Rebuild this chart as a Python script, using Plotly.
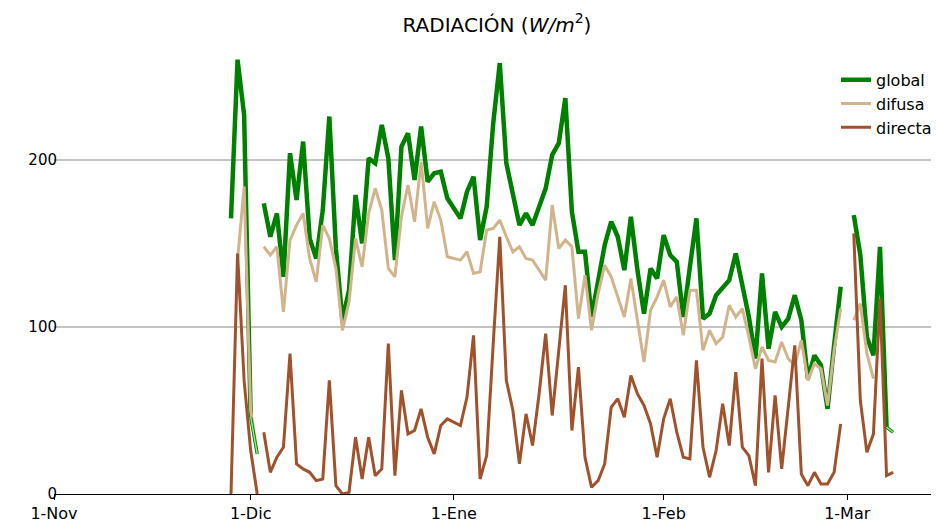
import pandas as pd
import plotly.graph_objects as go

# ---------------- data (daily values, first value = day 27 after 1-Nov) ----------------
start_date = "2015-11-01"
first_day = 27

global_ = [165, 260, 227, 46, 24,
           174, 154, 168, 130, 204, 176, 211, 153, 141, 170, 226, 147, 104, 122, 179,
           150, 201, 198, 221, 201, 140, 208, 216, 188, 220, 187, 192, 193, 177, 171,
           165, 181, 190, 152, 172, 222, 258, 198, 180, 161, 168, 161, 172, 183, 203,
           210, 237, 169, 145, 145, 106, 128, 149, 163, 154, 134, 166, 134, 108, 135,
           129, 155, 143, 139, 106, 136, 165, 105, 108, 119, 124, 128, 144, 126, 106,
           81, 132, 87, 109, 100, 105, 119, 104, 69, 83, 77, 51, 89, 124,
           None, 167, 143, 94, 83, 148, 40, 37]

difusa = [None, 140, 184, 50, 24,
          148, 143, 148, 109, 152, 161, 168, 141, 127, 161, 153, 135, 98, 115, 153,
          136, 168, 183, 170, 135, 130, 166, 185, 163, 199, 159, 175, 164, 142, 141,
          140, 145, 132, 133, 158, 159, 164, 154, 145, 148, 141, 140, 134, 128, 173,
          147, 152, 148, 105, 131, 98, 120, 137, 130, 118, 106, 129, 104, 79, 110,
          118, 128, 112, 118, 95, 122, 122, 86, 98, 90, 94, 113, 106, 111, 94,
          75, 88, 80, 79, 91, 81, 77, 92, 68, 78, 75, 53, 86, 111,
          None, 104, 114, 84, 69, None, 40, 37]

directa = [0, 144, 68, 26, 0,
           37, 13, 22, 28, 84, 18, 15, 13, 8, 9, 68, 5, 0, 1, 34,
           9, 34, 11, 15, 90, 11, 62, 36, 38, 51, 34, 24, 41, 45, 43,
           41, 58, 95, 9, 23, 90, 154, 68, 50, 18, 48, 29, 60, 96, 47,
           86, 125, 38, 76, 22, 4, 8, 18, 52, 57, 46, 71, 60, 53, 42,
           22, 45, 57, 37, 22, 21, 80, 28, 10, 26, 54, 29, 73, 28, 23,
           5, 81, 13, 59, 15, 52, 89, 12, 5, 13, 6, 6, 13, 42,
           None, 156, 56, 25, 36, 117, 11, 13]

break_after_days = [31]            # record interrupted after this day
thin_tail_days = [31, 128]         # last day of a run drawn as thin outline

tick_dates = ["2015-11-01", "2015-12-01", "2016-01-01", "2016-02-02", "2016-03-01"]
tick_labels = ["1-Nov", "1-Dic", "1-Ene", "1-Feb", "1-Mar"]
y_ticks = [0, 100, 200]

# ---------------- helpers ----------------
t0 = pd.Timestamp(start_date)


def day_date(d):
    return t0 + pd.Timedelta(days=d)


def build(values, skip=()):
    xs, ys = [], []
    for i, v in enumerate(values):
        d = first_day + i
        xs.append(day_date(d))
        ys.append(None if d in skip else v)
        if d in break_after_days:
            xs.append(day_date(d) + pd.Timedelta(hours=12))
            ys.append(None)
    return xs, ys


fig = go.Figure()

gx, gy = build(global_, skip=thin_tail_days)
fig.add_trace(go.Scatter(x=gx, y=gy, mode="lines", name="global",
                         line=dict(color="#008000", width=4.5), connectgaps=False))
fx, fy = build(difusa)
fig.add_trace(go.Scatter(x=fx, y=fy, mode="lines", name="difusa",
                         line=dict(color="#D2B48C", width=3), connectgaps=False))
dx, dy = build(directa)
fig.add_trace(go.Scatter(x=dx, y=dy, mode="lines", name="directa",
                         line=dict(color="#A0522D", width=3), connectgaps=False))

# thin tails of the global record
tx, ty = [], []
for d in thin_tail_days:
    i = d - first_day
    tx += [day_date(d - 1), day_date(d), None]
    ty += [global_[i - 1], global_[i], None]
fig.add_trace(go.Scatter(x=tx, y=ty, mode="lines", showlegend=False, hoverinfo="skip",
                         line=dict(color="#008000", width=3.2)))
fig.add_trace(go.Scatter(x=tx, y=ty, mode="lines", showlegend=False, hoverinfo="skip",
                         line=dict(color="#90EE90", width=1.4)))

# page body has an 8px margin: figure is sized to the visible window area
fig.update_layout(
    width=931, height=516,
    margin=dict(l=46, r=0, t=35, b=30),
    paper_bgcolor="white", plot_bgcolor="white",
    font=dict(family="DejaVu Sans", size=16, color="black"),
    title=dict(text="RADIACIÓN (<i>W/m</i><sup>2</sup>)", x=0.5252, xanchor="center",
               y=0.968, yanchor="middle", font=dict(size=20, family="DejaVu Sans")),
    legend=dict(x=0.8836, y=0.956, xanchor="left", yanchor="top",
                bgcolor="rgba(0,0,0,0)", borderwidth=0,
                font=dict(size=16, family="DejaVu Sans")),
    showlegend=True,
)

fig.update_xaxes(
    type="date",
    range=[day_date(0), day_date(135)],
    tickvals=tick_dates, ticktext=tick_labels,
    showgrid=False, zeroline=False,
    showline=True, linecolor="black", linewidth=1.3,
    ticks="outside", ticklen=5, tickcolor="black", tickwidth=1.2,
    tickfont=dict(size=16),
)
fig.update_yaxes(
    range=[0, 270],
    tickvals=y_ticks, ticktext=[str(v) for v in y_ticks],
    showgrid=True, gridcolor="#c4c4c4", gridwidth=1.6,
    zeroline=False, showline=False, ticks="",
    ticklabelstandoff=-4,
    tickfont=dict(size=15),
)

fig.write_html("out.html")
